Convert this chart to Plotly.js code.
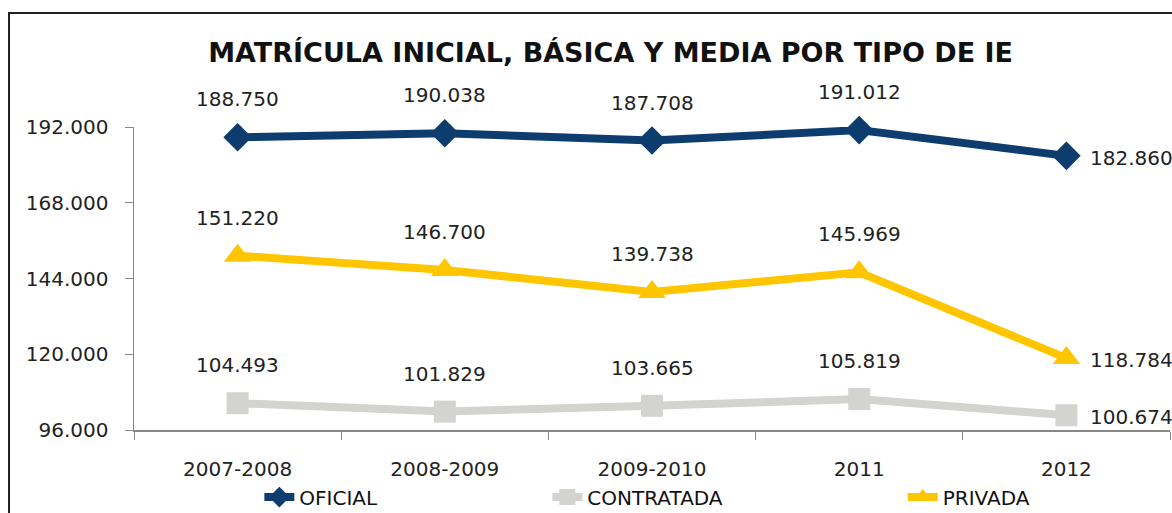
<!DOCTYPE html>
<html>
<head>
<meta charset="utf-8">
<script src="https://cdn.plot.ly/plotly-3.0.1.min.js"></script>
<style>html,body{margin:0;padding:0;background:#fff;}#chart{width:1172px;height:513px;}</style>
</head>
<body>
<div id="chart"></div>
<script>
var categories = ["2007-2008", "2008-2009", "2009-2010", "2011", "2012"];
var oficial = [188750, 190038, 187708, 191012, 182860];
var contratada = [104493, 101829, 103665, 105819, 100674];
var privada = [151220, 146700, 139738, 145969, 118784];
var yTicks = [96000, 120000, 144000, 168000, 192000];

var fnt = "DejaVu Sans, sans-serif";

function fmt(v) {
  var s = String(Math.round(v));
  return s.replace(/\B(?=(\d{3})+(?!\d))/g, ".");
}

function series(name, y, color, symbol, msize, legendId) {
  return {
    type: "scatter", mode: "lines+markers", name: name,
    x: categories, y: y,
    line: {color: color, width: 8},
    marker: {symbol: symbol, size: msize, color: color},
    cliponaxis: false, legend: legendId, hoverinfo: "x+y"
  };
}

var data = [
  series("OFICIAL", oficial, "#0d3d6e", "diamond", 22, "legend"),
  series("CONTRATADA", contratada, "#d3d3cf", "square", 22, "legend2"),
  series("PRIVADA", privada, "#ffc600", "triangle-up", 24, "legend3")
];

var annotations = [];
[oficial, contratada, privada].forEach(function (ys) {
  ys.forEach(function (v, i) {
    var last = i === ys.length - 1;
    annotations.push({
      x: i, y: v, text: fmt(v), showarrow: false,
      xanchor: last ? "left" : "center", yanchor: "middle",
      xshift: last ? 22 : 0, yshift: last ? -2 : 38,
      font: {family: fnt, size: 20, color: "#222"}
    });
  });
});

function leg(x) {
  return {x: x, y: 0.031, yref: "container", xanchor: "left", yanchor: "middle", orientation: "h",
    font: {family: fnt, size: 20, color: "#111"}, bgcolor: "rgba(0,0,0,0)", itemwidth: 30};
}

var layout = {
  width: 1172, height: 513,
  margin: {l: 134, r: 2, t: 127, b: 83},
  paper_bgcolor: "#fff", plot_bgcolor: "#fff",
  separators: ",.",
  showlegend: true,
  title: {text: "<b>MATRÍCULA INICIAL, BÁSICA Y MEDIA POR TIPO DE IE</b>", x: 0.521, xanchor: "center", y: 0.897, yanchor: "middle",
    font: {family: "DejaVu Sans, sans-serif", size: 27, color: "#111"}},
  xaxis: {type: "category", range: [-0.5, 4.5], autorange: false, tickson: "boundaries", ticks: "outside", ticklen: 8, tickcolor: "#888",
    showline: true, linecolor: "#888", linewidth: 1.5, showgrid: false, ticklabelstandoff: 20,
    tickfont: {family: fnt, size: 20, color: "#222"}, zeroline: false},
  yaxis: {range: [96000, 192000], autorange: false, tickvals: yTicks, tickformat: ",.0f", ticks: "outside", ticklen: 8, tickcolor: "#888",
    showline: true, linecolor: "#888", linewidth: 1.5, showgrid: false, zeroline: false, ticklabelstandoff: 12,
    tickfont: {family: fnt, size: 20, color: "#222"}},
  legend: leg(0.121),
  legend2: leg(0.399),
  legend3: leg(0.742),
  annotations: annotations,
  shapes: [{type: "rect", xref: "paper", yref: "paper", x0: (9 - 134) / 1036, x1: 1.1, y0: -0.5, y1: (430 - 13) / 303,
    line: {color: "#222", width: 2}, fillcolor: "rgba(0,0,0,0)", layer: "below"}]
};

Plotly.newPlot("chart", data, layout, {displayModeBar: false, staticPlot: true});
</script>
</body>
</html>
